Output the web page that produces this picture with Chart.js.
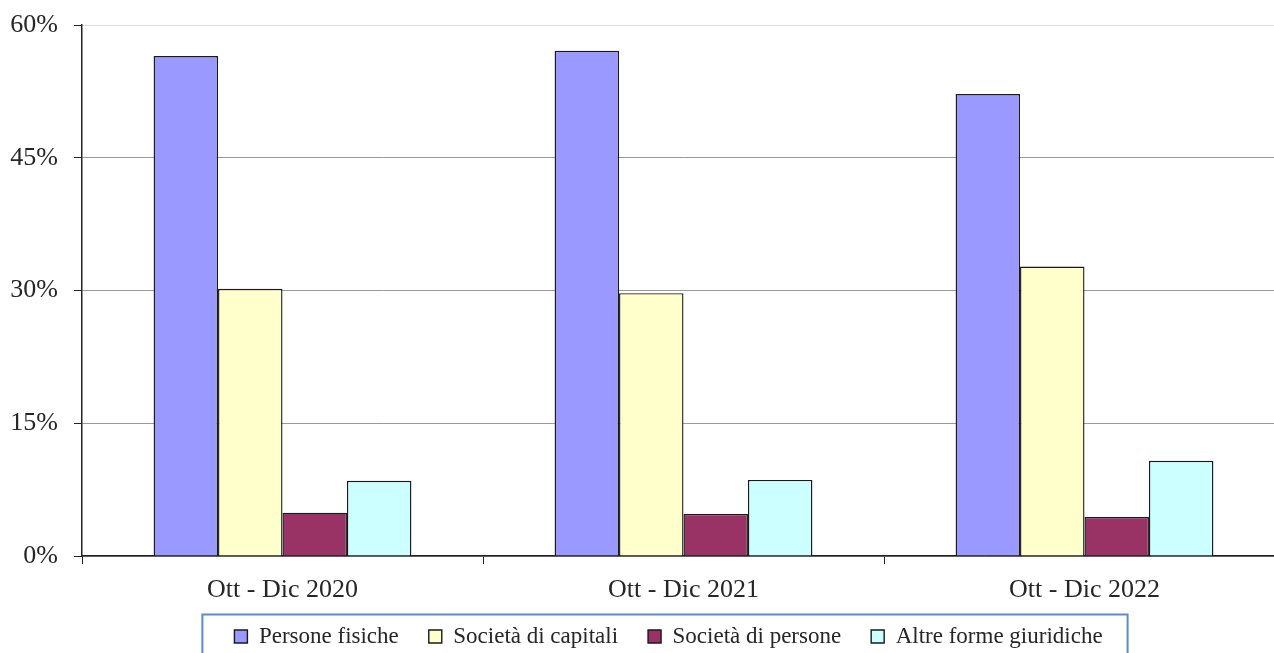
<!DOCTYPE html>
<html>
<head>
<meta charset="utf-8">
<script src="https://cdn.jsdelivr.net/npm/chart.js@4"></script>
<style>
    html, body { margin: 0; padding: 0; background: #fff; overflow: hidden; }
    #wrap { position: relative; width: 1290px; height: 680px; }
</style>
</head>
<body>
<div id="wrap"><canvas id="formeChart"></canvas></div>
<script>
// periods on the x axis
const periodi = ['Ott - Dic 2020', 'Ott - Dic 2021', 'Ott - Dic 2022'];

// share of each legal form (%)
const personeFisiche = [56.5, 57.1, 52.2];
const societaCapitali = [30.2, 29.7, 32.7];
const societaPersone = [4.9, 4.75, 4.4];
const altreForme = [8.5, 8.6, 10.75];

// y axis ticks
const yTicks = [0, 15, 30, 45, 60];

const fontFamily = '"Liberation Serif", "Times New Roman", serif';
const textColor = '#262626';

// nudge the legend so it sits under the plot like in the original
const legendShift = {
    id: 'legendShift',
    afterLayout(chart) {
        const lg = chart.legend;
        if (!lg) return;
        lg.left += 26; lg.right += 26;
        lg.top -= 11; lg.bottom -= 11;
    }
};

// draws the blue frame round the legend items
const legendFrame = {
    id: 'legendFrame',
    afterDraw(chart) {
        const lg = chart.legend;
        if (!lg || !lg.legendHitBoxes.length) return;
        const boxes = lg.legendHitBoxes;
        const first = boxes[0];
        const last = boxes[boxes.length - 1];
        const ctx = chart.ctx;
        const left = first.left - 32;
        const right = last.left + last.width + 25;
        const top = first.top + first.height / 2 - 22;
        ctx.save();
        ctx.strokeStyle = '#5b8bd0';
        ctx.lineWidth = 2;
        ctx.strokeRect(left, top, right - left, 200);
        ctx.restore();
    }
};

const ctx = document.getElementById('formeChart').getContext('2d');

const formeChart = new Chart(ctx, {
    type: 'bar',
    data: {
        labels: periodi,
        datasets: [
            { label: 'Persone fisiche', data: personeFisiche, backgroundColor: '#9999ff' },
            { label: 'Società di capitali', data: societaCapitali, backgroundColor: '#ffffcc' },
            { label: 'Società di persone', data: societaPersone, backgroundColor: '#993366' },
            { label: 'Altre forme giuridiche', data: altreForme, backgroundColor: '#ccffff' }
        ].map(ds => Object.assign(ds, { borderColor: '#1a1a1a', borderWidth: 1.4 }))
    },
    options: {
        responsive: true,
        maintainAspectRatio: false,
        animation: false,
        categoryPercentage: 0.643,
        barPercentage: 1,
        layout: {
            padding: { left: 0, right: 5, top: 25, bottom: 11 }
        },
        plugins: {
            tooltip: { enabled: false },
            legend: {
                position: 'bottom',
                labels: {
                    boxWidth: 13,
                    boxHeight: 13,
                    padding: 30,
                    color: textColor,
                    font: { family: fontFamily, size: 23 }
                }
            }
        },
        scales: {
            x: {
                afterFit: s => { s.height = 50; s.paddingLeft = 0; s.paddingRight = 0; },
                grid: {
                    drawOnChartArea: false,
                    drawTicks: true,
                    tickLength: 8,
                    tickColor: '#222'
                },
                border: { color: '#222', width: 1.5 },
                ticks: {
                    color: textColor,
                    padding: 11,
                    font: { family: fontFamily, size: 26 }
                }
            },
            y: {
                min: 0,
                max: 60,
                afterFit: s => { s.width = 82; s.paddingTop = 0; s.paddingBottom = 0; },
                afterBuildTicks: s => { s.ticks = yTicks.map(v => ({ value: v })); },
                grid: {
                    color: c => (c.tick && c.tick.value === 60) ? '#dcdcdc' : '#9a9a9a',
                    tickLength: 8,
                    tickColor: '#222'
                },
                border: { color: '#222', width: 1.5 },
                ticks: {
                    color: textColor,
                    padding: 16,
                    font: { family: fontFamily, size: 26 },
                    callback: v => v + '%'
                }
            }
        }
    },
    plugins: [legendShift, legendFrame]
});
</script>
</body>
</html>
